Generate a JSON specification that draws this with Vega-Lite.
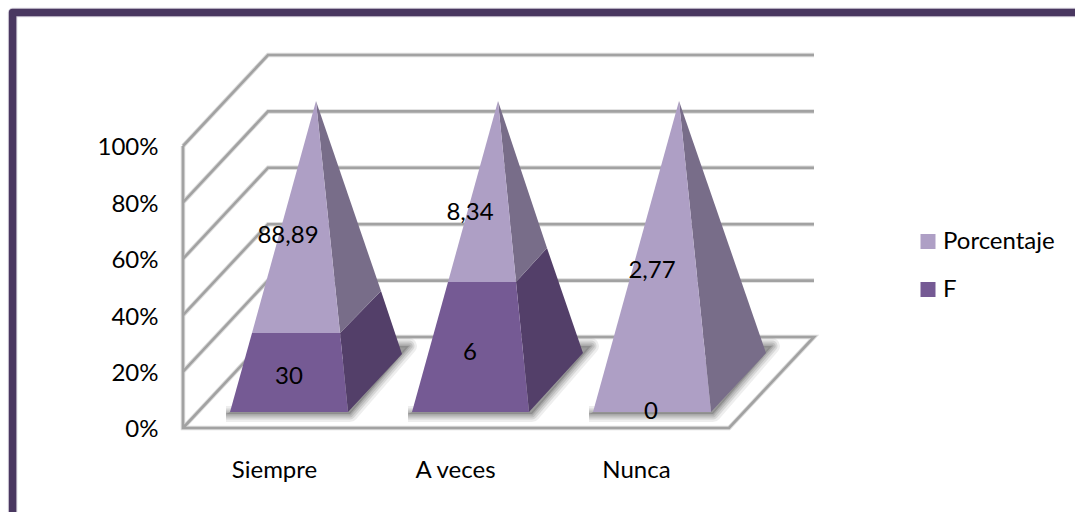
{"$schema":"https://vega.github.io/schema/vega-lite/v6.json","width":1075,"height":512,"padding":0,"autosize":{"type":"none"},"background":"#ffffff","view":{"stroke":null},
"config":{"font":"Lato","axis":{"grid":false,"ticks":false,"domain":false,"labelFont":"Lato","labelFontSize":24,"labelColor":"#000000","title":null}},
"datasets":{
"frame":[{"poly":"f","i":0,"x":12.6,"y":-34},{"poly":"f","i":1,"x":12.6,"y":147.3},{"poly":"f","i":2,"x":1085,"y":147.3}],
"grid":[
{"poly":"g0","i":0,"x":183,"y":0},{"poly":"g0","i":1,"x":268,"y":32.27},{"poly":"g0","i":2,"x":814,"y":32.27},{"poly":"g0","i":3,"x":729,"y":0},{"poly":"g0","i":4,"x":183,"y":0},{"poly":"g0","i":5,"x":183,"y":100},
{"poly":"g20","i":0,"x":183,"y":20},{"poly":"g20","i":1,"x":268,"y":52.27},{"poly":"g20","i":2,"x":814,"y":52.27},
{"poly":"g40","i":0,"x":183,"y":40},{"poly":"g40","i":1,"x":268,"y":72.27},{"poly":"g40","i":2,"x":814,"y":72.27},
{"poly":"g60","i":0,"x":183,"y":60},{"poly":"g60","i":1,"x":268,"y":92.27},{"poly":"g60","i":2,"x":814,"y":92.27},
{"poly":"g80","i":0,"x":183,"y":80},{"poly":"g80","i":1,"x":268,"y":112.27},{"poly":"g80","i":2,"x":814,"y":112.27},
{"poly":"g100","i":0,"x":183,"y":100},{"poly":"g100","i":1,"x":268,"y":132.27},{"poly":"g100","i":2,"x":814,"y":132.27}],
"shadow":[
{"poly":"s1","i":0,"x":226,"y":4.96},{"poly":"s1","i":1,"x":350,"y":4.96},{"poly":"s1","i":2,"x":409,"y":29.08},{"poly":"s1","i":3,"x":370,"y":29.08},
{"poly":"s2","i":0,"x":408,"y":4.96},{"poly":"s2","i":1,"x":532,"y":4.96},{"poly":"s2","i":2,"x":591,"y":29.08},{"poly":"s2","i":3,"x":552,"y":29.08},
{"poly":"s3","i":0,"x":589,"y":4.96},{"poly":"s3","i":1,"x":713,"y":4.96},{"poly":"s3","i":2,"x":772,"y":29.08},{"poly":"s3","i":3,"x":733,"y":29.08}],
"front":[
{"poly":"a1","series":"F","i":0,"x":230,"y":5.67},{"poly":"a1","series":"F","i":1,"x":348,"y":5.67},{"poly":"a1","series":"F","i":2,"x":340,"y":33.69},{"poly":"a1","series":"F","i":3,"x":252,"y":33.69},
{"poly":"b1","series":"Porcentaje","i":0,"x":252,"y":33.69},{"poly":"b1","series":"Porcentaje","i":1,"x":340,"y":33.69},{"poly":"b1","series":"Porcentaje","i":2,"x":316,"y":115.96},
{"poly":"a2","series":"F","i":0,"x":412,"y":5.67},{"poly":"a2","series":"F","i":1,"x":529,"y":5.67},{"poly":"a2","series":"F","i":2,"x":516,"y":51.77},{"poly":"a2","series":"F","i":3,"x":448,"y":51.77},
{"poly":"b2","series":"Porcentaje","i":0,"x":448,"y":51.77},{"poly":"b2","series":"Porcentaje","i":1,"x":516,"y":51.77},{"poly":"b2","series":"Porcentaje","i":2,"x":498,"y":115.96},
{"poly":"b3","series":"Porcentaje","i":0,"x":593,"y":5.67},{"poly":"b3","series":"Porcentaje","i":1,"x":711,"y":5.67},{"poly":"b3","series":"Porcentaje","i":2,"x":679,"y":115.96}],
"side":[
{"poly":"c1","series":"F","i":0,"x":348,"y":5.67},{"poly":"c1","series":"F","i":1,"x":402,"y":26.24},{"poly":"c1","series":"F","i":2,"x":381,"y":48.58},{"poly":"c1","series":"F","i":3,"x":340,"y":33.69},
{"poly":"d1","series":"Porcentaje","i":0,"x":340,"y":33.69},{"poly":"d1","series":"Porcentaje","i":1,"x":381,"y":48.58},{"poly":"d1","series":"Porcentaje","i":2,"x":316,"y":115.96},
{"poly":"c2","series":"F","i":0,"x":529,"y":5.67},{"poly":"c2","series":"F","i":1,"x":583,"y":26.6},{"poly":"c2","series":"F","i":2,"x":547,"y":63.83},{"poly":"c2","series":"F","i":3,"x":516,"y":51.77},
{"poly":"d2","series":"Porcentaje","i":0,"x":516,"y":51.77},{"poly":"d2","series":"Porcentaje","i":1,"x":547,"y":63.83},{"poly":"d2","series":"Porcentaje","i":2,"x":498,"y":115.96},
{"poly":"d3","series":"Porcentaje","i":0,"x":711,"y":5.67},{"poly":"d3","series":"Porcentaje","i":1,"x":766,"y":26.6},{"poly":"d3","series":"Porcentaje","i":2,"x":679,"y":115.96}],
"labels":[
{"t":"88,89","x":288,"y":68.09},{"t":"8,34","x":470,"y":76.24},{"t":"2,77","x":652,"y":55.5},{"t":"30","x":289,"y":18.09},{"t":"6","x":470,"y":26.6},{"t":"0","x":651,"y":5.67}]
},
"encoding":{
"x":{"field":"x","type":"quantitative","scale":{"domain":[0,1075],"nice":false,"zero":false},"axis":{"orient":"bottom","offset":-54,"values":[274,455,636],"labelExpr":"datum.value==274?'Siempre':datum.value==455?'A veces':'Nunca'","labelPadding":0,"labelOverlap":false,"labelFlush":false}},
"y":{"field":"y","type":"quantitative","scale":{"domain":[-29.79,151.77],"nice":false,"zero":false},"axis":{"orient":"left","offset":-158,"values":[0,20,40,60,80,100],"labelExpr":"datum.value+'%'","labelPadding":0,"labelOffset":2,"labelOverlap":false,"labelFlush":false}}
},
"layer":[
{"data":{"name":"frame"},"mark":{"type":"line","stroke":"#d8d4de","strokeWidth":9.5,"strokeJoin":"round"},"encoding":{"detail":{"field":"poly"},"order":{"field":"i"}}},
{"data":{"name":"frame"},"mark":{"type":"line","stroke":"#493760","strokeWidth":7.5,"strokeJoin":"round"},"encoding":{"detail":{"field":"poly"},"order":{"field":"i"}}},
{"data":{"name":"grid"},"mark":{"type":"line","stroke":"#dcdcdc","strokeWidth":4.5,"strokeJoin":"miter"},"encoding":{"detail":{"field":"poly"},"order":{"field":"i"}}},
{"data":{"name":"grid"},"mark":{"type":"line","stroke":"#a2a2a2","strokeWidth":2.6,"strokeJoin":"miter"},"encoding":{"detail":{"field":"poly"},"order":{"field":"i"}}},
{"data":{"name":"shadow"},"mark":{"type":"line","fill":"#707070","fillOpacity":0.15,"stroke":"#707070","strokeOpacity":0.12,"strokeWidth":16,"strokeJoin":"round"},"encoding":{"detail":{"field":"poly"},"order":{"field":"i"}}},
{"data":{"name":"shadow"},"mark":{"type":"line","fill":"#707070","fillOpacity":0.15,"stroke":"#707070","strokeOpacity":0.18,"strokeWidth":11,"strokeJoin":"round"},"encoding":{"detail":{"field":"poly"},"order":{"field":"i"}}},
{"data":{"name":"shadow"},"mark":{"type":"line","fill":"#707070","fillOpacity":0.15,"stroke":"#707070","strokeOpacity":0.22,"strokeWidth":7,"strokeJoin":"round"},"encoding":{"detail":{"field":"poly"},"order":{"field":"i"}}},
{"data":{"name":"shadow"},"mark":{"type":"line","fill":"#707070","fillOpacity":0.15,"stroke":"#707070","strokeOpacity":0.28,"strokeWidth":3,"strokeJoin":"round"},"encoding":{"detail":{"field":"poly"},"order":{"field":"i"}}},
{"data":{"name":"side"},"mark":{"type":"line","filled":true,"strokeWidth":0},"encoding":{"detail":{"field":"poly"},"order":{"field":"i"},"color":{"field":"series","type":"nominal","legend":null,"scale":{"domain":["Porcentaje","F"],"range":["#786d89","#533f69"]}}}},
{"data":{"name":"front"},"mark":{"type":"line","filled":true,"strokeWidth":0},"encoding":{"detail":{"field":"poly"},"order":{"field":"i"},"color":{"field":"series","type":"nominal","scale":{"domain":["Porcentaje","F"],"range":["#ae9fc5","#755a94"]},"legend":{"title":null,"orient":"none","legendX":916,"legendY":229.5,"symbolType":"square","symbolSize":225,"symbolStrokeWidth":0,"labelFont":"Lato","labelFontSize":24,"labelColor":"#000000","labelOffset":3,"rowPadding":24,"labelLimit":200}}}},
{"data":{"name":"labels"},"mark":{"type":"text","font":"Lato","fontSize":24,"color":"#000000","align":"center","baseline":"middle"},"encoding":{"text":{"field":"t"}}}
],
"resolve":{"scale":{"color":"independent"}}}
